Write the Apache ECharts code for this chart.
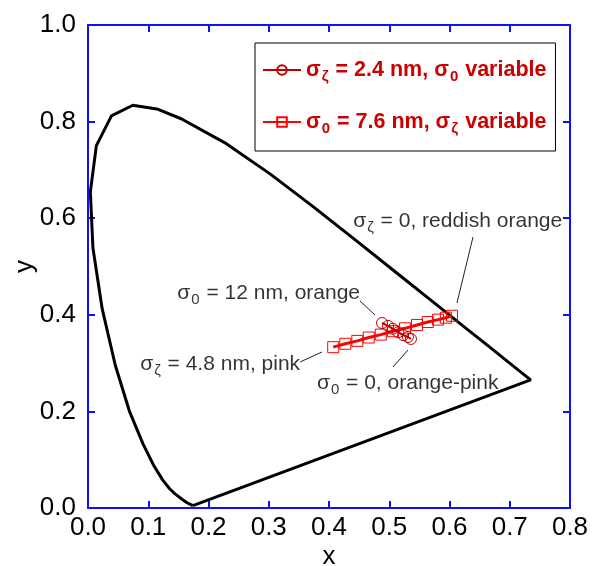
<!DOCTYPE html>
<html>
<head>
<meta charset="utf-8">
<script src="https://cdn.jsdelivr.net/npm/echarts@6/dist/echarts.min.js"></script>
<style>
  html, body { margin: 0; background: #fff; }
  #chart { width: 592px; height: 566px; }
</style>
</head>
<body>
<div id="chart"></div>
<script>
// spectrum locus (closed by the purple line back to the start)
const locusX = [0.1741, 0.1714, 0.1644, 0.1566, 0.1440, 0.1355, 0.1241, 0.1096, 0.0913, 0.0687, 0.0454, 0.0235, 0.0082, 0.0039, 0.0139, 0.0389, 0.0743, 0.1142, 0.1547, 0.2296, 0.3016, 0.3731, 0.4441, 0.5125, 0.5752, 0.6270, 0.6658, 0.6915, 0.7190, 0.7347, 0.1741]
const locusY = [0.0050, 0.0051, 0.0109, 0.0177, 0.0297, 0.0399, 0.0578, 0.0868, 0.1327, 0.2007, 0.2950, 0.4127, 0.5384, 0.6548, 0.7502, 0.8120, 0.8338, 0.8262, 0.8059, 0.7543, 0.6923, 0.6245, 0.5547, 0.4866, 0.4242, 0.3725, 0.3340, 0.3083, 0.2809, 0.2653, 0.0050]

// sigma_zeta = 2.4 nm, sigma_0 variable (circles)
const circX = [0.488, 0.498, 0.506, 0.515, 0.523, 0.531, 0.536]
const circY = [0.383, 0.377, 0.371, 0.364, 0.358, 0.354, 0.350]

// sigma_0 = 7.6 nm, sigma_zeta variable (squares)
const sqX = [0.407, 0.427, 0.447, 0.466, 0.486, 0.506, 0.526, 0.546, 0.564, 0.581, 0.594, 0.604]
const sqY = [0.333, 0.340, 0.346, 0.353, 0.359, 0.366, 0.372, 0.379, 0.385, 0.390, 0.394, 0.398]

const seriesNames = ['sz24', 's076']
const legendText = [
  '{b|σ}{sb|ζ}{b| = 2.4 nm, σ}{sb|0}{b| variable}',
  '{b|σ}{sb|0}{b| = 7.6 nm, σ}{sb|ζ}{b| variable}'
]

// annotations: text, anchor of text, which side of the anchor, leader line
const noteText = [
  '{t|σ}{s|0}{t| = 12 nm, orange}',
  '{t|σ}{s|ζ}{t| = 4.8 nm, pink}',
  '{t|σ}{s|0}{t| = 0, orange-pink}',
  '{t|σ}{s|ζ}{t| = 0, reddish orange}'
]
const noteAt = [[0.4515, 0.445], [0.352, 0.298], [0.380, 0.259], [0.787, 0.594]]
const noteSide = ['left', 'left', 'right', 'left']
const leaderFrom = [[0.4515, 0.4286], [0.352, 0.3023], [0.5062, 0.2919], [0.639, 0.561]]
const leaderTo = [[0.4763, 0.3996], [0.3884, 0.323], [0.5311, 0.3271], [0.6124, 0.4244]]

const xTicks = { min: 0, max: 0.8, interval: 0.1 }
const yTicks = { min: 0, max: 1.0, interval: 0.2 }

const FONT = 'Liberation Sans, Arial, sans-serif'
const BLUE = '#1010ff'

const zip = (xs, ys) => xs.map((x, i) => [x, ys[i]])

const chart = echarts.init(document.getElementById('chart'))

const axisCommon = {
  type: 'value',
  axisLine: { show: true, onZero: false, lineStyle: { color: BLUE, width: 2 } },
  axisTick: { show: true, inside: true, length: 7, lineStyle: { color: BLUE, width: 2 } },
  splitLine: { show: false }
}

const option = {
  animation: false,
  backgroundColor: '#fff',
  textStyle: { fontFamily: FONT },
  grid: { left: 88, top: 25, width: 482, height: 483, outerBoundsMode: 'none', containLabel: false },
  legend: {
    data: seriesNames,
    orient: 'vertical',
    left: 255,
    top: 43,
    padding: [12, 9, 14, 7],
    itemGap: 22,
    itemWidth: 38,
    itemHeight: 12,
    borderColor: '#000',
    borderWidth: 1,
    backgroundColor: '#fff',
    selectedMode: false,
    formatter: name => legendText[seriesNames.indexOf(name)],
    textStyle: {
      fontFamily: FONT, fontSize: 21.5, fontWeight: 'bold', color: '#cc0000', lineHeight: 30,
      rich: {
        b: { fontFamily: FONT, fontSize: 21.5, fontWeight: 'bold', color: '#cc0000' },
        sb: { fontFamily: FONT, fontSize: 15, fontWeight: 'bold', color: '#cc0000', padding: [14, 1, 0, 1] }
      }
    }
  },
  xAxis: [
    Object.assign({}, axisCommon, {
      position: 'bottom', min: xTicks.min, max: xTicks.max, interval: xTicks.interval,
      name: 'x', nameLocation: 'middle', nameGap: 36, nameMoveOverlap: false,
      nameTextStyle: { fontFamily: FONT, fontSize: 26, color: '#000' },
      axisLabel: { fontFamily: FONT, fontSize: 26, color: '#000', margin: 7, formatter: v => v.toFixed(1) }
    }),
    Object.assign({}, axisCommon, {
      position: 'top', min: xTicks.min, max: xTicks.max, interval: xTicks.interval,
      axisLabel: { show: false }
    })
  ],
  yAxis: [
    Object.assign({}, axisCommon, {
      position: 'left', min: yTicks.min, max: yTicks.max, interval: yTicks.interval,
      name: 'y', nameLocation: 'middle', nameGap: 50, nameMoveOverlap: false,
      nameTextStyle: { fontFamily: FONT, fontSize: 26, color: '#000' },
      axisLabel: { fontFamily: FONT, fontSize: 26, color: '#000', margin: 12, formatter: v => v.toFixed(1) }
    }),
    Object.assign({}, axisCommon, {
      position: 'right', min: yTicks.min, max: yTicks.max, interval: yTicks.interval,
      axisLabel: { show: false }
    })
  ],
  series: [
    {
      name: 'locus',
      type: 'line',
      data: zip(locusX, locusY),
      showSymbol: false,
      lineStyle: { color: '#000', width: 3 },
      z: 2,
      markLine: {
        silent: true,
        symbol: 'none',
        label: { show: false },
        lineStyle: { color: '#222', width: 1, type: 'solid' },
        data: leaderFrom.map((p, i) => [{ coord: p }, { coord: leaderTo[i] }])
      }
    },
    {
      name: 'notes',
      type: 'scatter',
      symbolSize: 0,
      data: noteAt.map((p, i) => ({
        value: p,
        label: { position: noteSide[i], formatter: noteText[i] }
      })),
      label: {
        show: true,
        distance: 0,
        color: '#000',
        rich: {
          t: { fontFamily: FONT, fontSize: 21, color: '#000' },
          s: { fontFamily: FONT, fontSize: 15, color: '#000', padding: [14, 1, 0, 1] }
        }
      },
      z: 3
    },
    {
      name: seriesNames[0],
      type: 'line',
      data: zip(circX, circY),
      symbol: 'circle',
      symbolSize: 11,
      lineStyle: { color: '#c00000', width: 2 },
      itemStyle: { color: 'rgba(255,255,255,0)', borderColor: '#c00000', borderWidth: 1 },
      z: 5
    },
    {
      name: seriesNames[1],
      type: 'line',
      data: zip(sqX, sqY),
      symbol: 'rect',
      symbolSize: 11,
      lineStyle: { color: '#ff0000', width: 3 },
      itemStyle: { color: 'rgba(255,255,255,0)', borderColor: '#ff0000', borderWidth: 1 },
      z: 4
    }
  ]
}

chart.setOption(option)
</script>
</body>
</html>
